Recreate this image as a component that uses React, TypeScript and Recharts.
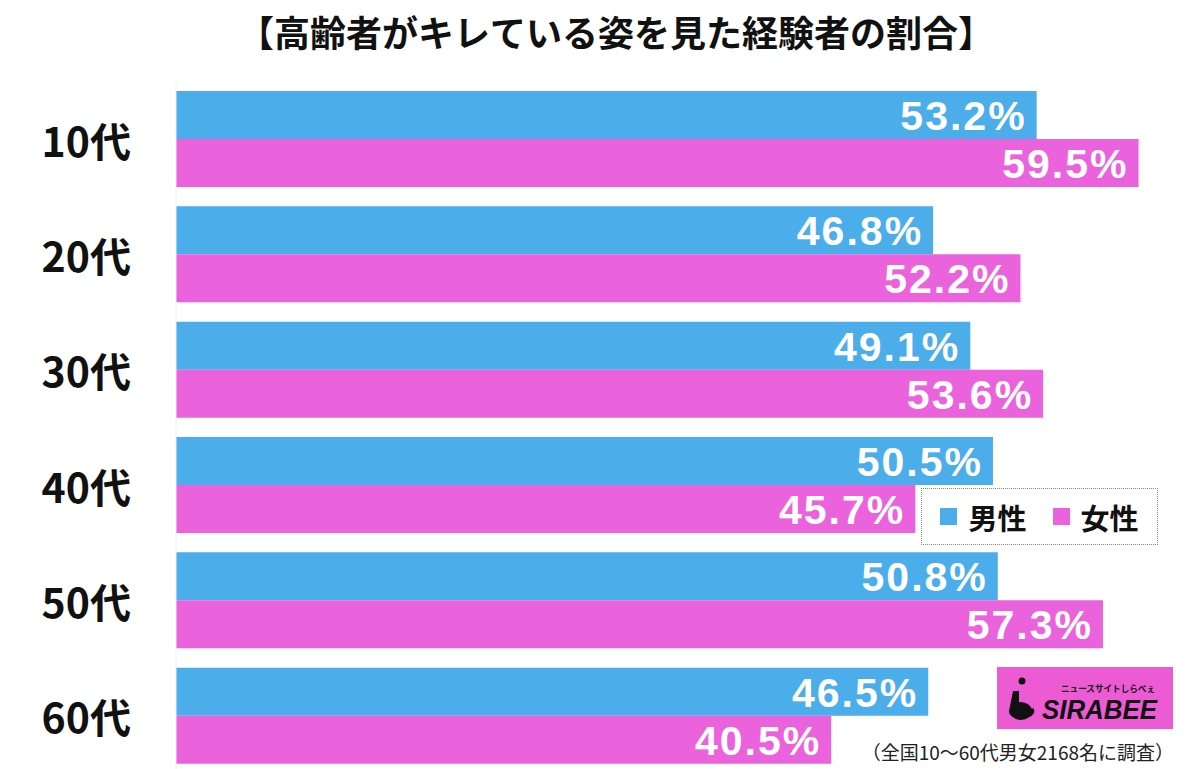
import { BarChart, Bar, XAxis, YAxis, LabelList } from 'recharts'

const ages = ['10代', '20代', '30代', '40代', '50代', '60代']
const male = [53.2, 46.8, 49.1, 50.5, 50.8, 46.5]
const female = [59.5, 52.2, 53.6, 45.7, 57.3, 40.5]
const seriesNames = ['男性', '女性']

const title = '【高齢者がキレている姿を見た経験者の割合】'
const note = '（全国10〜60代男女2168名に調査）'

const BLUE = '#4BADE9'
const PINK = '#EB62DD'

const data = ages.map((age, i) => ({ age, male: male[i], female: female[i] }))

const jp = '"Noto Sans CJK JP", "Noto Sans", sans-serif'

function AgeTick(props: any) {
  const { y, payload } = props
  return (
    <text
      x={131}
      y={y}
      textAnchor="end"
      dominantBaseline="central"
      fontFamily={jp}
      fontWeight={700}
      fontSize={41}
      fill="#111"
    >
      {payload.value}
    </text>
  )
}

function ValueLabel(props: any) {
  const { x, y, width, height, value } = props
  return (
    <text
      x={x + width - 10}
      y={y + height / 2 + 1}
      textAnchor="end"
      dominantBaseline="central"
      fontFamily='"Liberation Sans", Arial, sans-serif'
      fontWeight={700}
      fontSize={41}
      letterSpacing={2}
      fill="#fff"
    >
      {value.toFixed(1)}%
    </text>
  )
}

function Logo() {
  return (
    <svg width={176} height={62} style={{ position: 'absolute', left: 997, top: 667 }}>
      <rect x={0} y={0} width={176} height={62} fill="#EC5BD3" />
      <circle cx={25} cy={14} r={3.5} fill="#111" />
      <path d="M16 24 L22 24 L22 40 C22 46 30 46 34 42 C36 40 38 42 37 46 C33 54 12 54 12 44 Z" fill="#111" />
      <ellipse cx={24} cy={44} rx={11} ry={9} fill="#111" />
      <text
        x={64}
        y={25}
        fontFamily={jp}
        fontWeight={700}
        fontSize={9}
        fill="#111"
        textLength={94}
        lengthAdjust="spacingAndGlyphs"
      >
        ニュースサイトしらべぇ
      </text>
      <text
        x={45}
        y={52}
        fontFamily='"Liberation Sans", Arial, sans-serif'
        fontWeight={700}
        fontStyle="italic"
        fontSize={27}
        fill="#111"
        textLength={115}
        lengthAdjust="spacingAndGlyphs"
      >
        SIRABEE
      </text>
    </svg>
  )
}

export default function App() {
  const colors = [BLUE, PINK]
  return (
    <div
      style={{
        position: 'absolute',
        left: 0,
        top: 0,
        width: 1200,
        height: 769,
        overflow: 'hidden',
        background: '#fff',
      }}
    >
      <div
        style={{
          position: 'absolute',
          left: 0,
          width: 1232,
          top: 9,
          textAlign: 'center',
          fontFamily: jp,
          fontWeight: 700,
          fontSize: 36,
          lineHeight: '44px',
          color: '#111',
        }}
      >
        {title}
      </div>

      <BarChart
        width={1200}
        height={780}
        data={data}
        layout="vertical"
        margin={{ top: 81, right: 21, left: 0, bottom: 7 }}
        barGap={0}
      >
        <XAxis type="number" domain={[0, 62]} hide />
        <YAxis
          type="category"
          dataKey="age"
          width={176}
          axisLine={{ stroke: '#f0f0f0' }}
          tickLine={false}
          tick={<AgeTick />}
        />
        <Bar dataKey="male" name={seriesNames[0]} fill={BLUE} barSize={48} isAnimationActive={false}>
          <LabelList dataKey="male" content={<ValueLabel />} />
        </Bar>
        <Bar dataKey="female" name={seriesNames[1]} fill={PINK} barSize={48} isAnimationActive={false}>
          <LabelList dataKey="female" content={<ValueLabel />} />
        </Bar>
      </BarChart>

      <div
        style={{
          position: 'absolute',
          left: 921,
          top: 488,
          width: 235,
          height: 55,
          border: '1px dotted #888',
          background: '#fff',
          display: 'flex',
          alignItems: 'center',
          justifyContent: 'center',
          gap: 26,
          fontFamily: jp,
          fontWeight: 700,
          fontSize: 29,
          color: '#111',
        }}
      >
        {seriesNames.map((n, i) => (
          <div key={n} style={{ display: 'flex', alignItems: 'center', gap: 11 }}>
            <span style={{ width: 17, height: 17, background: colors[i], display: 'inline-block' }} />
            <span>{n}</span>
          </div>
        ))}
      </div>

      <Logo />

      <div
        style={{
          position: 'absolute',
          right: 26,
          top: 739,
          fontFamily: jp,
          fontSize: 19,
          lineHeight: '26px',
          color: '#222',
          whiteSpace: 'nowrap',
        }}
      >
        {note}
      </div>
    </div>
  )
}
